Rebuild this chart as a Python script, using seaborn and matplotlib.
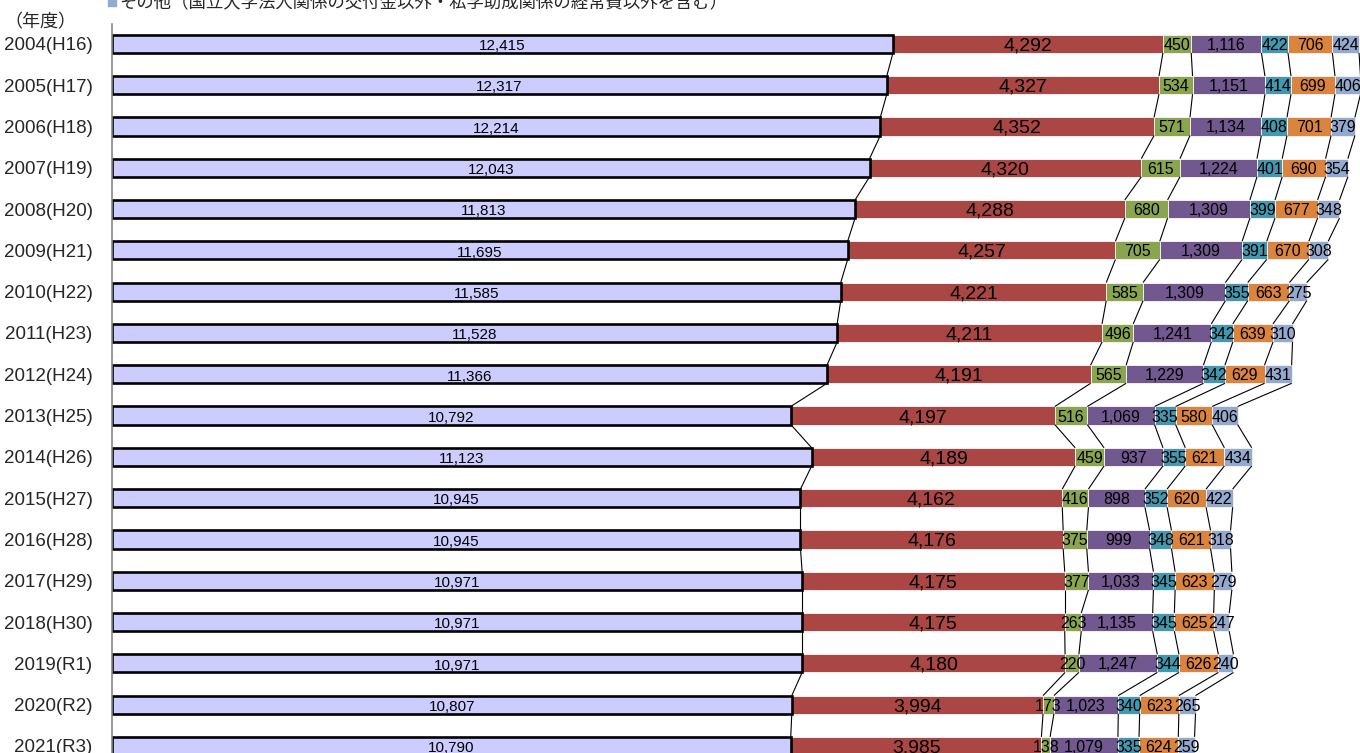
import numpy as np
import pandas as pd
import matplotlib
matplotlib.use("Agg")
import matplotlib.pyplot as plt
import seaborn as sns

years = ["2004(H16)", "2005(H17)", "2006(H18)", "2007(H19)", "2008(H20)", "2009(H21)",
         "2010(H22)", "2011(H23)", "2012(H24)", "2013(H25)", "2014(H26)", "2015(H27)",
         "2016(H28)", "2017(H29)", "2018(H30)", "2019(R1)", "2020(R2)", "2021(R3)"]

s1 = [12415, 12317, 12214, 12043, 11813, 11695, 11585, 11528, 11366, 10792, 11123, 10945,
      10945, 10971, 10971, 10971, 10807, 10790]
s2 = [4292, 4327, 4352, 4320, 4288, 4257, 4221, 4211, 4191, 4197, 4189, 4162,
      4176, 4175, 4175, 4180, 3994, 3985]
s3 = [450, 534, 571, 615, 680, 705, 585, 496, 565, 516, 459, 416,
      375, 377, 263, 220, 173, 138]
s4 = [1116, 1151, 1134, 1224, 1309, 1309, 1309, 1241, 1229, 1069, 937, 898,
      999, 1033, 1135, 1247, 1023, 1079]
s5 = [422, 414, 408, 401, 399, 391, 355, 342, 342, 335, 355, 352,
      348, 345, 345, 344, 340, 335]
s6 = [706, 699, 701, 690, 677, 670, 663, 639, 629, 580, 621, 620,
      621, 623, 625, 626, 623, 624]
s7 = [424, 406, 379, 354, 348, 308, 275, 310, 431, 406, 434, 422,
      318, 279, 247, 240, 265, 259]

legend_label = "その他（国立大学法人関係の交付金以外・私学助成関係の経常費以外を含む）"
year_axis_label = "（年度）"

series = [s1, s2, s3, s4, s5, s6, s7]
colors = ["#ccccff", "#aa4643", "#89a54e", "#71588f", "#4198af", "#db843d", "#93a9cf"]
label_sizes = [11, 14, 11.5, 11.5, 11.5, 11.5, 11.5]

sns.set_theme(style="white")
plt.rcParams["font.family"] = ["Liberation Sans", "Noto Sans CJK JP", "DejaVu Sans"]

fig = plt.figure(figsize=(13.6, 7.53), dpi=100)
ax = fig.add_axes([112 / 1360, 0, 1248 / 1360, (753 - 24) / 753])

vals = np.array(series, dtype=float)
cum = np.cumsum(vals, axis=0)  # shape (7, n)
n = len(years)
bar_h = 0.44

# draw overlayed cumulative bars, largest first
for k in range(len(series) - 1, -1, -1):
    df = pd.DataFrame({"year": years, "value": cum[k]})
    if k == 0:
        ec, lw = "black", 1.9
    else:
        ec, lw = "#f4eeee", 0.7
    sns.barplot(data=df, x="value", y="year", orient="h", color=colors[k],
                saturation=1, width=bar_h, edgecolor=ec, linewidth=lw, ax=ax,
                errorbar=None)

# series connecting lines
for k in range(len(series)):
    for i in range(n - 1):
        ax.plot([cum[k][i], cum[k][i + 1]], [i + bar_h / 2, i + 1 - bar_h / 2],
                color="black", lw=0.8, zorder=1, solid_capstyle="butt")

# data labels
for k in range(len(series)):
    for i in range(n):
        start = cum[k][i] - vals[k][i]
        center = start + vals[k][i] / 2
        dy = 0.02 if k == 0 else 0.0
        ax.text(center, i + dy, f"{int(vals[k][i]):,}", ha="center", va="center_baseline",
                fontsize=label_sizes[k], color="black", zorder=5)

ax.set_xlim(0, 19840)
ax.set_ylim(n - 1 + 0.17, -0.48)
ax.set_xlabel("")
ax.set_ylabel("")
ax.set_xticks([])
for side in ["top", "right", "bottom"]:
    ax.spines[side].set_visible(False)
ax.spines["left"].set_color("#868686")
ax.spines["left"].set_linewidth(1.2)
ax.tick_params(axis="y", length=0, pad=14, labelsize=13.5)
for t in ax.get_yticklabels():
    t.set_fontfamily(["Liberation Sans", "DejaVu Sans"])

fig.text(4 / 1360, 1 - 22 / 753, year_axis_label, ha="left", va="center",
         fontsize=13, family=["Noto Sans CJK JP", "DejaVu Sans"])

# legend entry (partially cut at top)
fig.patches.append(plt.Rectangle((108 / 1360, 1 - 6 / 753), 8 / 1360, 10 / 753,
                                 transform=fig.transFigure, color="#93a9cf"))
fig.text(119 / 1360, 1 - 2 / 753, legend_label, ha="left", va="center",
         fontsize=12.5, family=["Noto Sans CJK JP", "DejaVu Sans"])

fig.savefig("out.png", dpi=100)
